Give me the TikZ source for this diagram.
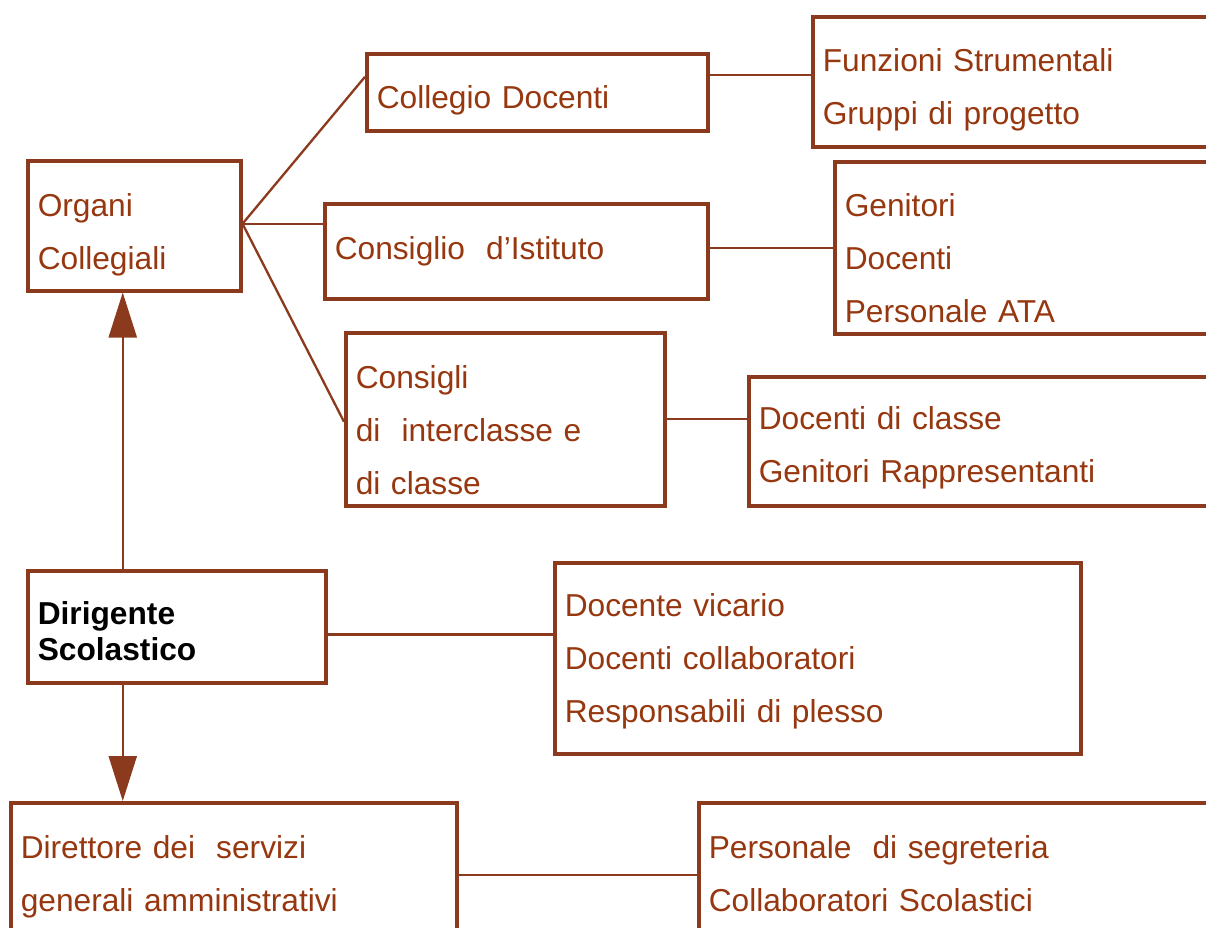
\documentclass[tikz,border=0pt]{standalone}
\usepackage{fontspec}
\setmainfont{Liberation Sans}
\usetikzlibrary{arrows.meta,calc}
\definecolor{brn}{RGB}{139,58,30}
\definecolor{brntxt}{RGB}{150,55,15}

\begin{document}
\begin{tikzpicture}[x=1pt,y=-1pt,
    box/.style={draw=brn,line width=3.5pt,anchor=north west,inner xsep=10pt,inner ysep=0pt,
      align=left,text=brntxt,font=\fontsize{31.7}{53}\selectfont},
    link/.style={brn,line width=2.3pt},
    arr/.style={brn,line width=2.3pt,-{Triangle[length=45pt,width=28pt]}}]

      \useasboundingbox (0,0) rectangle (1206,927);
      \clip (0,0) rectangle (1206,927);

      % organi collegiali
      \node[box,text width=193pt,text height=56pt,text depth=74pt] (oc) at (26,159) {Organi\\Collegiali};
      \node[box,text width=321pt,text height=55pt,text depth=22pt] (cd) at (365,52) {Collegio Docenti};
      \node[box,text width=363pt,text height=56pt,text depth=39pt] (ci) at (323,202) {Consiglio\ \ d’Istituto};
      \node[box,text width=299pt,text height=56pt,text depth=117pt] (cic) at (344,331) {Consigli\\di\ \ interclasse e\\di classe};

      % composizione
      \node[box,text width=410pt,text height=55pt,text depth=75pt] (fs) at (811,15) {Funzioni Strumentali\\Gruppi di progetto};
      \node[box,text width=400pt,text height=55pt,text depth=117pt] (gen) at (833,160) {Genitori\\Docenti\\Personale ATA};
      \node[box,text width=460pt,text height=53pt,text depth=76pt] (dc) at (747,375) {Docenti di classe\\Genitori Rappresentanti};

      % dirigente
      \node[box,text=black,font=\bfseries\fontsize{31.7}{36}\selectfont,text width=278pt,text height=54pt,text depth=58pt] (ds) at (26,569) {Dirigente\\Scolastico};
      \node[box,text width=506pt,text height=54pt,text depth=137pt] (dv) at (553,561) {Docente vicario\\Docenti collaboratori\\Responsabili di plesso};

      % servizi amministrativi
      \node[box,text width=426pt,text height=56pt,text depth=88pt] (dsga) at (9,801) {Direttore dei\ \ servizi\\generali amministrativi};
      \node[box,text width=520pt,text height=56pt,text depth=88pt] (ps) at (697,801) {Personale\ \ di segreteria\\Collaboratori Scolastici};

      % connectors
      \coordinate (hub) at ([yshift=2pt]oc.east);
      \draw[link] (hub) -- ([yshift=15.5pt]cd.west);
      \draw[link] (hub) -- (hub -| ci.west);
      \draw[link] (hub) -- ([yshift=-2.5pt]cic.west);

      \coordinate (cdr) at ([yshift=17.5pt]cd.east);
      \draw[link] (cdr) -- (cdr -| fs.west);
      \draw[link] (gen.west -| ci.east) -- (gen.west);
      \draw[link] (cic.east) -- (cic.east -| dc.west);

      \coordinate (dsr) at ([yshift=-7.7pt]ds.east);
      \draw[link] (dsr) -- (dsr -| dv.west);
      \draw[link] (dsga.east) -- (ps.west);

      % arrows
      \coordinate (ax) at ([xshift=-11.5pt]oc.south);
      \draw[arr] (ds.north -| ax) -- (ax);
      \draw[arr] (ds.south -| ax) -- (ax |- dsga.north);

\end{tikzpicture}
\end{document}
